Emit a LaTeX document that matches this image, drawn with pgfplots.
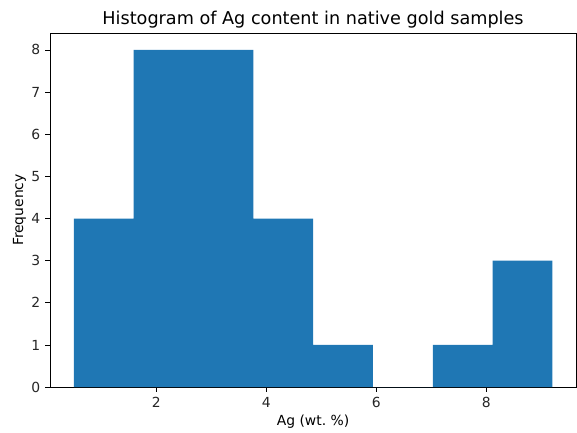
\documentclass[border=0pt]{standalone}
\usepackage{fontspec}
\setmainfont{DejaVu Sans}
\usepackage{pgfplots}
\pgfplotsset{compat=1.18}
\definecolor{mplblue}{HTML}{1F77B4}
\begin{document}
\begin{tikzpicture}
\begin{axis}[
  at={(0,0)}, anchor=south west,
  scale only axis,
  width=378.7pt, height=254.9pt,
  xmin=0.065, xmax=9.63,
  ymin=0, ymax=8.4,
  xtick={2,4,6,8},
  ytick={0,1,2,3,4,5,6,7,8},
  tick align=outside,
  major tick length=3.5pt,
  tick style={black, line width=0.6pt},
  xtick pos=bottom, ytick pos=left,
  axis line style={line width=0.6pt},
  /pgf/number format/assume math mode=true,
  ticklabel style={font=\fontsize{10}{12}\selectfont, text=black!85},
  xlabel={Ag (wt.\ \%)},
  ylabel={Frequency},
  label style={font=\fontsize{10}{12}\selectfont},
  xlabel style={yshift=1.5pt},
  ylabel style={yshift=-3pt},
  title={Histogram of Ag content in native gold samples},
  title style={font=\fontsize{12.7}{15}\selectfont, yshift=-6pt},
]
\addplot[ybar interval, fill=mplblue, draw=none] coordinates {
  (0.5,4) (1.5875,8) (2.675,8) (3.7625,4) (4.85,1) (5.9375,0) (7.025,1) (8.1125,3) (9.2,0)
};
\end{axis}
\path[use as bounding box] (-36pt,-28.8pt) rectangle (379.4pt,278.7pt);
\end{tikzpicture}
\end{document}
